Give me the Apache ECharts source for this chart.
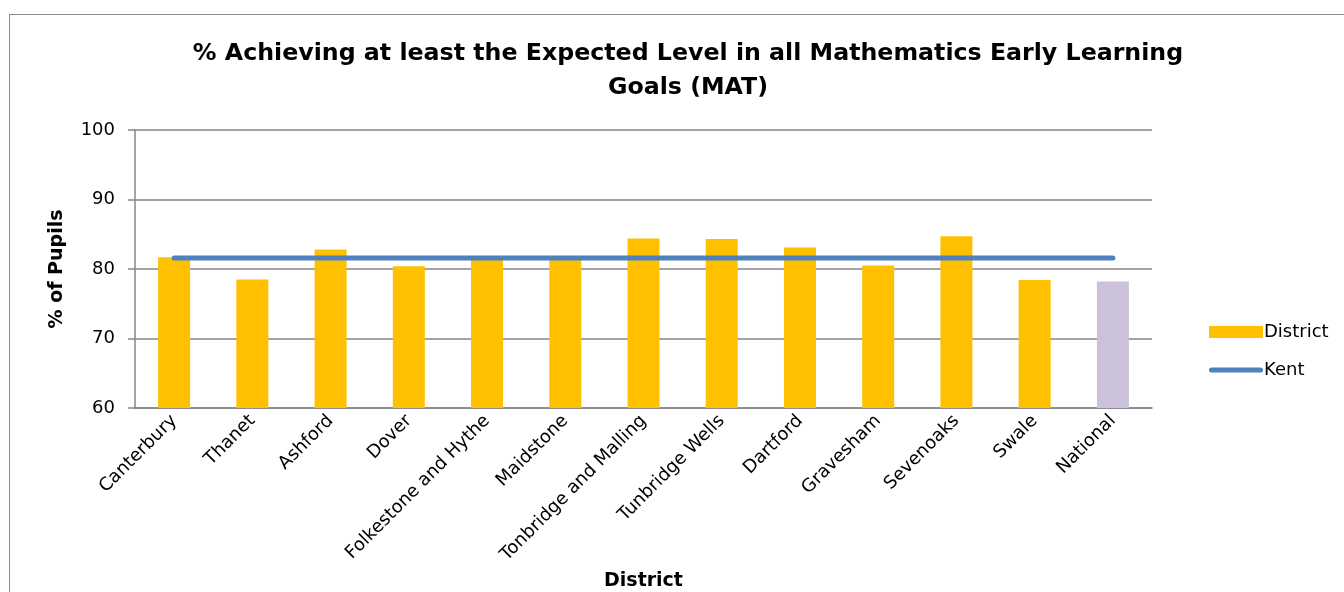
<!DOCTYPE html>
<html>
<head>
<meta charset="utf-8">
<script src="https://cdn.jsdelivr.net/npm/echarts@6/dist/echarts.min.js"></script>
<style>
  html, body { margin: 0; padding: 0; background: #fff; overflow: hidden; }
  #frame { position: absolute; left: 9px; top: 14px; width: 1400px; height: 700px; border: 1.5px solid #8c8c8c; }
  #chart { position: absolute; left: 0; top: 0; width: 1344px; height: 592px; }
</style>
</head>
<body>
<div id="frame"></div>
<div id="chart"></div>
<script>
  // data
  var districts = ['Canterbury', 'Thanet', 'Ashford', 'Dover', 'Folkestone and Hythe', 'Maidstone',
    'Tonbridge and Malling', 'Tunbridge Wells', 'Dartford', 'Gravesham', 'Sevenoaks', 'Swale', 'National'];
  var districtValues = [81.7, 78.5, 82.8, 80.4, 81.5, 81.5, 84.4, 84.3, 83.1, 80.5, 84.7, 78.4, 78.2];
  var kentValues = [81.6, 81.6, 81.6, 81.6, 81.6, 81.6, 81.6, 81.6, 81.6, 81.6, 81.6, 81.6, 81.6];
  var yTicks = [60, 70, 80, 90, 100];

  var font = 'Tahoma, "DejaVu Sans", Verdana, sans-serif';
  var gold = '#FFC000';
  var lilac = '#CCC1DA';
  var blue = '#4F81BD';

  var myChart = echarts.init(document.getElementById('chart'));
  myChart.setOption({
    backgroundColor: 'transparent',
    animation: false,
    textStyle: { fontFamily: font, color: '#000' },
    title: {
      text: '% Achieving at least the Expected Level in all Mathematics Early Learning\nGoals (MAT)',
      left: 683,
      top: 32,
      textAlign: 'center',
      textStyle: { fontFamily: font, fontSize: 23.7, fontWeight: 'bold', lineHeight: 34, color: '#000' }
    },
    legend: {
      orient: 'vertical',
      left: 1204,
      top: 318,
      itemGap: 20,
      itemWidth: 54,
      itemHeight: 12,
      textStyle: { fontFamily: font, fontSize: 18, color: '#000', padding: [0, 0, 0, -4] },
      data: [
        { name: 'District', icon: 'rect', itemStyle: { color: gold } },
        { name: 'Kent', icon: 'path://M2.5,0 L51.5,0 A2.5,2.5 0 0 1 51.5,5 L2.5,5 A2.5,2.5 0 0 1 2.5,0 Z',
          itemStyle: { color: blue, borderWidth: 0 } }
      ]
    },
    grid: { left: 135, right: 192, top: 130, bottom: 181 },
    xAxis: {
      type: 'category',
      data: districts,
      name: 'District',
      nameLocation: 'middle',
      nameGap: 164,
      nameTextStyle: { fontFamily: font, fontSize: 19, fontWeight: 'bold', color: '#000' },
      axisLine: { lineStyle: { color: '#868686', width: 1.5 } },
      axisTick: { length: 6, lineStyle: { color: '#868686', width: 1.5 } },
      axisLabel: { rotate: 45, interval: 0, fontFamily: font, fontSize: 18, color: '#000', margin: 10 }
    },
    yAxis: {
      type: 'value',
      min: yTicks[0],
      max: yTicks[yTicks.length - 1],
      interval: 10,
      name: '% of Pupils',
      nameLocation: 'middle',
      nameGap: 68,
      nameRotate: 90,
      nameTextStyle: { fontFamily: font, fontSize: 19, fontWeight: 'bold', color: '#000' },
      axisLine: { show: true, lineStyle: { color: '#868686', width: 1.5 } },
      axisTick: { show: true, length: 7, lineStyle: { color: '#868686', width: 1.5 } },
      splitLine: { lineStyle: { color: '#868686', width: 1.5 } },
      axisLabel: { fontFamily: font, fontSize: 18, color: '#000', margin: 20 }
    },
    series: [
      {
        name: 'District',
        type: 'bar',
        barWidth: 32,
        itemStyle: { color: gold },
        data: districtValues.map(function (v, i) {
          return districts[i] === 'National' ? { value: v, itemStyle: { color: lilac } } : v;
        })
      },
      {
        name: 'Kent',
        type: 'line',
        symbol: 'none',
        lineStyle: { color: blue, width: 5, cap: 'round' },
        itemStyle: { color: blue },
        data: kentValues
      }
    ]
  });
</script>
</body>
</html>
